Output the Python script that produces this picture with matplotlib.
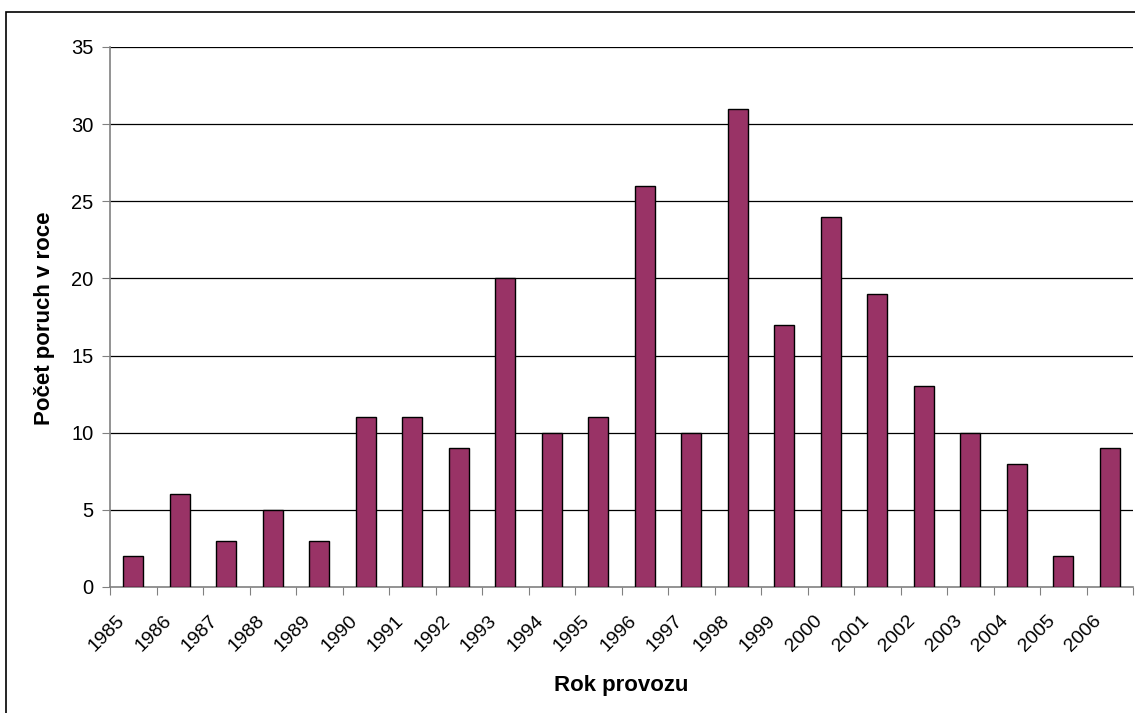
import matplotlib
matplotlib.use("Agg")
import matplotlib.pyplot as plt
from matplotlib.patches import Rectangle
from matplotlib.transforms import ScaledTranslation

years = ["1985", "1986", "1987", "1988", "1989", "1990", "1991", "1992", "1993",
         "1994", "1995", "1996", "1997", "1998", "1999", "2000", "2001", "2002",
         "2003", "2004", "2005", "2006"]
failures = [2, 6, 3, 5, 3, 11, 11, 9, 20, 10, 11, 26, 10, 31, 17, 24, 19, 13,
            10, 8, 2, 9]
y_ticks = [0, 5, 10, 15, 20, 25, 30, 35]

plt.rcParams["font.family"] = ["Liberation Sans", "DejaVu Sans"]

W, H = 1135, 713
fig = plt.figure(figsize=(W / 100, H / 100), dpi=100)
fig.patch.set_facecolor("white")

# outer chart frame
fig.patches.append(Rectangle((6 / W, -0.05), 1.2, 1 - 12 / H + 0.05,
                             transform=fig.transFigure, fill=False,
                             edgecolor="black", linewidth=1.2))

left, right = 110 / W, 1133 / W
bottom, top = 1 - 587 / H, 1 - 47 / H
ax = fig.add_axes([left, bottom, right - left, top - bottom])

n = len(years)
xs = list(range(n))
ax.bar(xs, failures, width=0.42, color="#993366", edgecolor="black",
       linewidth=1.0, zorder=3)

ax.set_xlim(-0.5, n - 0.5)
ax.set_ylim(0, 35)
ax.set_yticks(y_ticks)
ax.set_yticklabels([str(v) for v in y_ticks], fontsize=14.5)
for v in y_ticks[1:]:
    ax.axhline(v, color="black", linewidth=0.9, zorder=1)

ax.set_xticks([i - 0.5 for i in range(n + 1)])
ax.set_xticklabels([])
ax.set_xticks(xs, minor=True)
ax.set_xticklabels(years, minor=True, rotation=45, ha="right", va="top",
                   rotation_mode="anchor", fontsize=14)
ax.tick_params(axis="x", which="minor", length=0, pad=8)
ax.tick_params(axis="x", which="major", length=6, color="#808080", direction="out")
ax.tick_params(axis="y", length=6, color="#808080", direction="out", pad=6)

shift = ScaledTranslation(-17 / 100, -14 / 100, fig.dpi_scale_trans)
for lbl in ax.get_xticklabels(minor=True):
    lbl.set_transform(lbl.get_transform() + shift)

for s in ["top", "right"]:
    ax.spines[s].set_visible(False)
for s in ["left", "bottom"]:
    ax.spines[s].set_color("#808080")
    ax.spines[s].set_linewidth(1.2)

fig.text(45 / W, 1 - 318 / H, "Počet poruch v roce", rotation=90,
         ha="center", va="center", fontsize=16, fontweight="bold")
fig.text(621 / W, 1 - 685 / H, "Rok provozu", ha="center", va="center",
         fontsize=16, fontweight="bold")

fig.savefig("out.png", dpi=100, facecolor="white")
